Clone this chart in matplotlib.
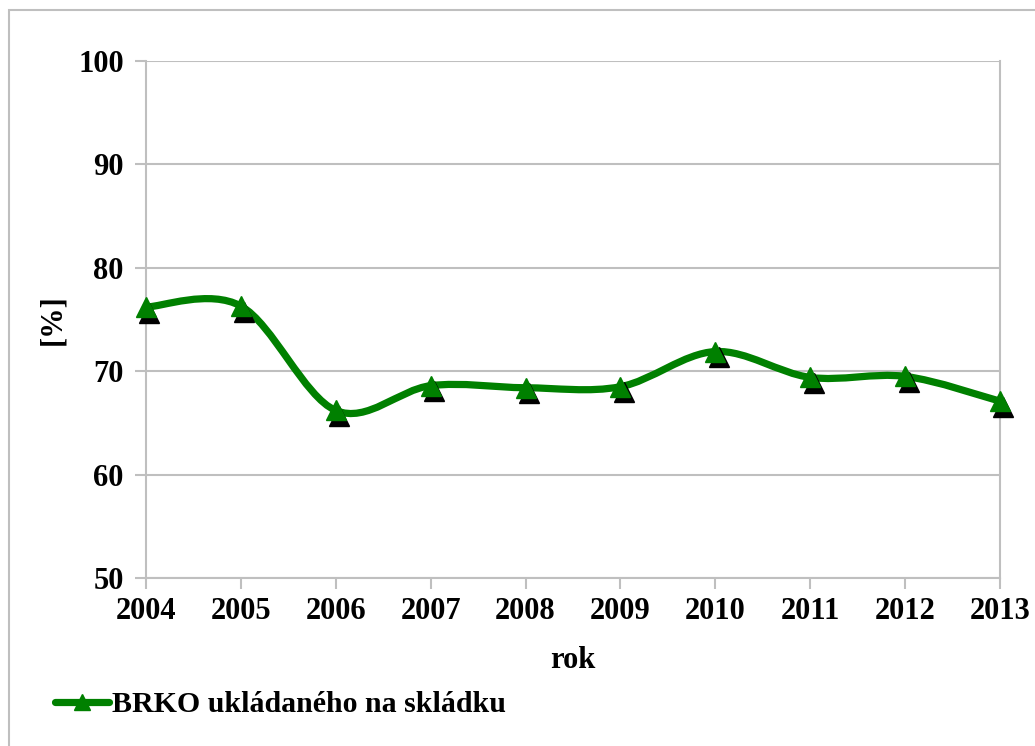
import numpy as np
import matplotlib
matplotlib.use('Agg')
import matplotlib.pyplot as plt
import matplotlib.transforms as mtransforms
from matplotlib.path import Path
from matplotlib.patches import PathPatch, Rectangle
from matplotlib.lines import Line2D

# data
years = ['2004', '2005', '2006', '2007', '2008', '2009', '2010', '2011', '2012', '2013']
brko = [76.2, 76.3, 66.2, 68.6, 68.4, 68.5, 71.9, 69.4, 69.5, 67.1]
series_name = 'BRKO ukládaného na skládku'

green = '#008000'
grid_c = '#BFBFBF'
fs = 22

plt.rcParams['font.family'] = ['Liberation Serif', 'DejaVu Serif']
plt.rcParams['font.weight'] = 'bold'

W, H = 1035, 746
fig = plt.figure(figsize=(W / 100, H / 100), dpi=100)

# outer chart border
fig.patches.append(Rectangle((9 / W, -0.1), 1.2, 1 - 10 / H + 0.1, transform=fig.transFigure,
                             fill=False, edgecolor=grid_c, linewidth=1.5))

ax = fig.add_axes([146 / W, 1 - 578 / H, (1000 - 146) / W, (578 - 61) / H])

x = np.arange(len(years), dtype=float)
y = np.array(brko)

# Excel-like smoothed line (Catmull-Rom as cubic Bezier)
px = np.concatenate([[x[0]], x, [x[-1]]])
py = np.concatenate([[y[0]], y, [y[-1]]])
verts = [(x[0], y[0])]
codes = [Path.MOVETO]
for i in range(1, len(px) - 2):
    c1 = (px[i] + (px[i + 1] - px[i - 1]) / 6, py[i] + (py[i + 1] - py[i - 1]) / 6)
    c2 = (px[i + 1] - (px[i + 2] - px[i]) / 6, py[i + 1] - (py[i + 2] - py[i]) / 6)
    verts += [c1, c2, (px[i + 1], py[i + 1])]
    codes += [Path.CURVE4] * 3
ax.add_patch(PathPatch(Path(verts, codes), facecolor='none', edgecolor=green,
                       linewidth=5.2, capstyle='round', joinstyle='round', zorder=3, clip_on=False))

# markers with shadow
shadow = mtransforms.offset_copy(ax.transData, fig=fig, x=2.5, y=-4, units='points')
ax.plot(x, y, linestyle='none', marker='^', markersize=14, color='black',
        transform=shadow, zorder=4, clip_on=False)
ax.plot(x, y, linestyle='none', marker='^', markersize=14, color=green,
        zorder=5, clip_on=False)

ax.set_xlim(0, len(years) - 1)
ax.set_ylim(50, 100)
ax.set_yticks(np.arange(50, 101, 10))
ax.set_xticks(x)
ax.set_xticklabels(years)
ax.tick_params(axis='both', labelsize=fs, colors=grid_c, labelcolor='black',
               length=8, width=1.5, direction='out')
ax.tick_params(axis='x', pad=6)
ax.tick_params(axis='y', pad=8)
for lab in ax.get_xticklabels() + ax.get_yticklabels():
    lab.set_fontweight('bold')

ax.grid(axis='y', color=grid_c, linewidth=1.5)
ax.set_axisbelow(True)
for s in ax.spines.values():
    s.set_color(grid_c)
    s.set_linewidth(1.5)
ax.spines['top'].set_visible(False)

ax.set_xlabel('rok', fontsize=fs, fontweight='bold', labelpad=14)
ax.set_ylabel('[%]', fontsize=fs, fontweight='bold', labelpad=8)

handle = Line2D([], [], color=green, linewidth=5.2, marker='^', markersize=11,
                solid_capstyle='round')
fig.legend([handle], [series_name], loc='center left', bbox_to_anchor=(55 / W, 1 - 705 / H),
           frameon=False, handlelength=1.8, handletextpad=0.1,
           borderpad=0, borderaxespad=0, numpoints=1, prop={'weight': 'bold', 'size': 21.5})

fig.savefig('out.png', dpi=100)
